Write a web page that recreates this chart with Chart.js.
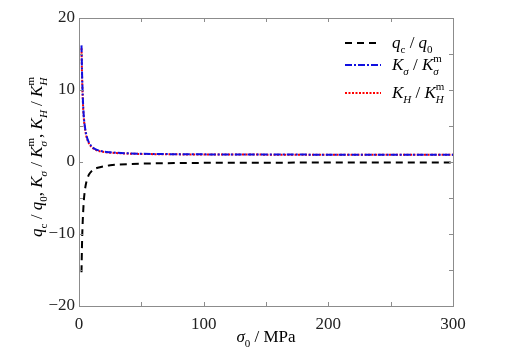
<!DOCTYPE html>
<html>
<head>
<meta charset="utf-8">
<script src="https://cdn.jsdelivr.net/npm/chart.js@4"></script>
<style>
  html, body { margin: 0; padding: 0; background: #fff; }
  #wrap { width: 514px; height: 350px; position: relative; }
</style>
</head>
<body>
<div id="wrap"><canvas id="myChart" width="514" height="350"></canvas></div>
<script>
// values
const sigma = [2, 2.5, 3, 3.5, 4, 5, 6, 7, 8, 10, 12, 15, 20, 25, 30, 40, 50, 60, 80, 100, 130, 160, 200, 250, 300];
const qRatio = [-15.3, -10.8, -8.2, -6.4, -5.1, -3.6, -2.7, -2.15, -1.75, -1.3, -1.02, -0.8, -0.6, -0.46, -0.38, -0.29, -0.23, -0.19, -0.15, -0.12, -0.1, -0.09, -0.08, -0.07, -0.07];
const kSigmaRatio = [16.2, 12.0, 9.2, 7.3, 6.0, 4.6, 3.7, 3.1, 2.7, 2.2, 1.9, 1.65, 1.45, 1.35, 1.28, 1.2, 1.15, 1.12, 1.08, 1.06, 1.04, 1.03, 1.02, 1.0, 1.0];
const kHRatio = [15.8, 11.6, 8.9, 7.0, 5.8, 4.4, 3.5, 2.95, 2.58, 2.1, 1.82, 1.58, 1.4, 1.3, 1.24, 1.16, 1.12, 1.09, 1.06, 1.04, 1.03, 1.02, 1.01, 1.0, 1.0];
const xTicks = [0, 100, 200, 300];
const yTicks = [-20, -10, 0, 10, 20];

const serif = '"Liberation Serif", "DejaVu Serif", serif';

// draws a run of pieces: {t, i (italic), p: 'b' | 'sub' | 'sup' | 'ss' (sub+sup)}
function richText(ctx, x, y, parts, size) {
  const small = Math.round(size * 0.62);
  for (const pt of parts) {
    const st = pt.i ? 'italic ' : '';
    if (pt.p === 'ss') {
      ctx.font = st + small + 'px ' + serif;
      const w1 = ctx.measureText(pt.t).width;
      ctx.fillText(pt.t, x, y + size * 0.3);
      ctx.font = small + 'px ' + serif;
      const w2 = ctx.measureText(pt.s).width;
      ctx.fillText(pt.s, x, y - size * 0.5);
      x += Math.max(w1, w2);
    } else if (pt.p === 'sub') {
      ctx.font = st + small + 'px ' + serif;
      ctx.fillText(pt.t, x, y + size * 0.3);
      x += ctx.measureText(pt.t).width;
    } else if (pt.p === 'sup') {
      ctx.font = st + small + 'px ' + serif;
      ctx.fillText(pt.t, x, y - size * 0.5);
      x += ctx.measureText(pt.t).width;
    } else {
      ctx.font = st + size + 'px ' + serif;
      ctx.fillText(pt.t, x, y);
      x += ctx.measureText(pt.t).width;
    }
  }
  return x;
}
function richWidth(ctx, parts, size) {
  ctx.save();
  ctx.globalAlpha = 0;
  const w = richText(ctx, 0, 0, parts, size);
  ctx.restore();
  return w;
}

const legendItems = [
  { color: '#000', dash: [7, 5], y: 43,
    parts: [{t: 'q', i: 1}, {t: 'c', p: 'sub'}, {t: ' / '}, {t: 'q', i: 1}, {t: '0', p: 'sub'}] },
  { color: '#1010e0', dash: [7, 2, 2, 2], y: 65,
    parts: [{t: 'K', i: 1}, {t: 'σ', i: 1, p: 'sub'}, {t: ' / '}, {t: 'K', i: 1}, {t: 'σ', i: 1, s: 'm', p: 'ss'}] },
  { color: '#ff0000', dash: [2, 1.5], y: 93,
    parts: [{t: 'K', i: 1}, {t: 'H', i: 1, p: 'sub'}, {t: ' / '}, {t: 'K', i: 1}, {t: 'H', i: 1, s: 'm', p: 'ss'}] }
];

const frame = {
  id: 'frame',
  afterDraw(chart) {
    const ctx = chart.ctx;
    const a = chart.chartArea;
    const xs = chart.scales.x, ys = chart.scales.y;
    ctx.save();
    // box + inward ticks
    ctx.strokeStyle = '#8c8c8c';
    ctx.lineWidth = 1;
    ctx.strokeRect(Math.round(a.left) + 0.5, Math.round(a.top) + 0.5, Math.round(a.right - a.left), Math.round(a.bottom - a.top));
    ctx.beginPath();
    for (let v = 50; v < 300; v += 50) {
      const px = Math.round(xs.getPixelForValue(v)) + 0.5;
      ctx.moveTo(px, a.bottom); ctx.lineTo(px, a.bottom - 4);
      ctx.moveTo(px, a.top); ctx.lineTo(px, a.top + 4);
    }
    for (let v = -15; v < 20; v += 5) {
      const py = Math.round(ys.getPixelForValue(v)) + 0.5;
      ctx.moveTo(a.left, py); ctx.lineTo(a.left + 4, py);
      ctx.moveTo(a.right, py); ctx.lineTo(a.right - 4, py);
    }
    ctx.stroke();

    // legend
    ctx.fillStyle = '#000';
    ctx.textBaseline = 'alphabetic';
    for (const it of legendItems) {
      ctx.strokeStyle = it.color;
      ctx.lineWidth = 2;
      ctx.setLineDash(it.dash);
      ctx.beginPath();
      ctx.moveTo(345, it.y); ctx.lineTo(381, it.y);
      ctx.stroke();
      ctx.setLineDash([]);
      richText(ctx, 392, it.y + 5, it.parts, 17);
    }

    // x title
    const xt = [{t: 'σ', i: 1}, {t: '0', p: 'sub'}, {t: ' / MPa'}];
    const wx = richWidth(ctx, xt, 17);
    richText(ctx, (a.left + a.right) / 2 - wx / 2, 342, xt, 17);

    // y title
    const yt = [
      {t: 'q', i: 1}, {t: 'c', p: 'sub'}, {t: ' / '}, {t: 'q', i: 1}, {t: '0', p: 'sub'}, {t: ', '},
      {t: 'K', i: 1}, {t: 'σ', i: 1, p: 'sub'}, {t: ' / '}, {t: 'K', i: 1}, {t: 'σ', i: 1, s: 'm', p: 'ss'}, {t: ', '},
      {t: 'K', i: 1}, {t: 'H', i: 1, p: 'sub'}, {t: ' / '}, {t: 'K', i: 1}, {t: 'H', i: 1, s: 'm', p: 'ss'}
    ];
    const wy = richWidth(ctx, yt, 17);
    ctx.translate(42, 157);
    ctx.rotate(-Math.PI / 2);
    richText(ctx, -wy / 2, 0, yt, 17);
    ctx.restore();
  }
};

const toPts = arr => sigma.map((x, i) => ({ x: x, y: arr[i] }));

const ctx = document.getElementById('myChart').getContext('2d');
new Chart(ctx, {
  type: 'line',
  data: {
    datasets: [
      { label: 'qc/q0', data: toPts(qRatio), borderColor: '#000', borderWidth: 2, borderDash: [7, 5], pointRadius: 0, tension: 0.4, cubicInterpolationMode: 'monotone', fill: false },
      { label: 'Ks/Ksm', data: toPts(kSigmaRatio), borderColor: '#1010e0', borderWidth: 2, borderDash: [7, 2, 2, 2], pointRadius: 0, cubicInterpolationMode: 'monotone', fill: false },
      { label: 'KH/KHm', data: toPts(kHRatio), borderColor: '#ff0000', borderWidth: 2, borderDash: [2, 1.5], pointRadius: 0, cubicInterpolationMode: 'monotone', fill: false }
    ]
  },
  options: {
    responsive: false,
    animation: false,
    events: [],
    layout: { padding: { left: 0, right: 61, top: 18, bottom: 0 } },
    plugins: { legend: { display: false }, tooltip: { enabled: false } },
    scales: {
      x: {
        type: 'linear', min: 0, max: 300,
        afterBuildTicks: s => { s.ticks = xTicks.map(v => ({ value: v })); },
        afterFit: s => { s.height = 44; },
        grid: { display: false, drawTicks: false },
        border: { display: false },
        ticks: { color: '#222', padding: 8, maxRotation: 0, font: { family: serif, size: 17 } }
      },
      y: {
        min: -20, max: 20,
        afterBuildTicks: s => { s.ticks = yTicks.map(v => ({ value: v })); },
        afterFit: s => { s.width = 79; },
        grid: { display: false, drawTicks: false },
        border: { display: false },
        ticks: { color: '#222', padding: 4, font: { family: serif, size: 17 },
          callback: v => (v < 0 ? '\u2212' + Math.abs(v) : String(v)) }
      }
    }
  },
  plugins: [frame]
});
</script>
</body>
</html>
